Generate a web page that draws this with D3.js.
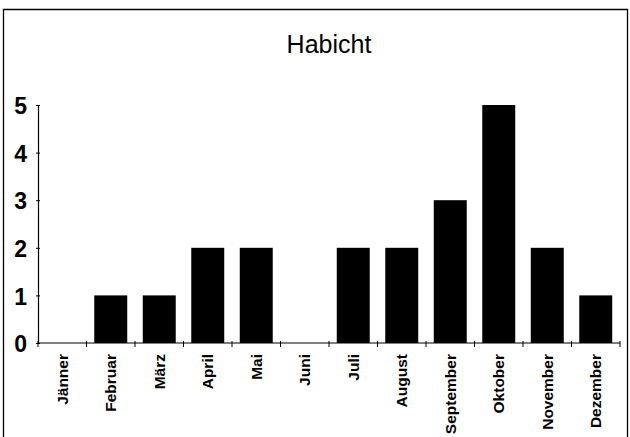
<!DOCTYPE html>
<html>
<head>
<meta charset="utf-8">
<script src="https://cdn.jsdelivr.net/npm/d3@7"></script>
<style>
  body { margin: 0; background: #fff; }
  svg { display: block; font-family: "Liberation Sans", Arial, sans-serif; }
</style>
</head>
<body>
<script>
var months = ["Jänner", "Februar", "März", "April", "Mai", "Juni", "Juli",
              "August", "September", "Oktober", "November", "Dezember"];
var counts = [0, 1, 1, 2, 2, 0, 2, 2, 3, 5, 2, 1];
var yTicks = [0, 1, 2, 3, 4, 5];
var title = "Habicht";

var width = 630, height = 437;

var svg = d3.select("body").append("svg")
    .attr("width", width)
    .attr("height", height);

// frame (bottom edge is cut off in the scan)
svg.append("path")
    .attr("d", "M3.5,437V9.5H627.5V437")
    .attr("fill", "none")
    .attr("stroke", "#000")
    .attr("stroke-width", 1.3);

var x = d3.scaleBand()
    .domain(months)
    .range([38, 620])
    .paddingInner(0.32)
    .paddingOuter(0.16);

var y = d3.scaleLinear()
    .domain([0, 5])
    .range([343, 105]);

svg.append("text")
    .attr("x", 329)
    .attr("y", 53)
    .attr("text-anchor", "middle")
    .attr("font-size", 25)
    .text(title);

// bars
svg.selectAll(".bar")
    .data(counts)
  .enter().append("rect")
    .attr("class", "bar")
    .attr("x", function(d, i) { return x(months[i]); })
    .attr("y", function(d) { return y(d); })
    .attr("width", x.bandwidth())
    .attr("height", function(d) { return y(0) - y(d); })
    .attr("fill", "#000");

// y axis
var yAxis = svg.append("g")
    .attr("transform", "translate(38,0)")
    .call(d3.axisLeft(y).tickValues(yTicks).tickFormat(d3.format("d"))
      .tickSize(0).tickPadding(11));
yAxis.select(".domain").attr("stroke", "#000").attr("stroke-width", 1.2);
yAxis.selectAll(".tick line").remove();
yAxis.selectAll(".tick").append("line")
    .attr("x1", -2).attr("x2", 2)
    .attr("stroke", "#000");
yAxis.selectAll(".tick text")
    .attr("font-size", 23)
    .attr("font-weight", "bold")
    .attr("font-family", "Liberation Sans, Arial, sans-serif")
    .attr("fill", "#000")
    .attr("dy", "0.38em");

// x axis
var step = x.step();
var boundaries = d3.range(months.length + 1).map(function(i) { return 38 + i * step; });
var xg = svg.append("g");
xg.append("line")
    .attr("x1", 38).attr("x2", 620)
    .attr("y1", y(0)).attr("y2", y(0))
    .attr("stroke", "#000").attr("stroke-width", 1.2);
xg.selectAll(".xt")
    .data(boundaries)
  .enter().append("line")
    .attr("x1", function(d) { return d; })
    .attr("x2", function(d) { return d; })
    .attr("y1", y(0) - 2)
    .attr("y2", y(0) + 4)
    .attr("stroke", "#000");

xg.selectAll(".xl")
    .data(months)
  .enter().append("text")
    .attr("transform", function(d) {
      return "translate(" + (x(d) + x.bandwidth() / 2) + "," + (y(0) + 11) + ") rotate(-90)";
    })
    .attr("dy", "0.36em")
    .attr("text-anchor", "end")
    .attr("font-size", 15.5)
    .attr("font-weight", "bold")
    .text(function(d) { return d; });
</script>
</body>
</html>
